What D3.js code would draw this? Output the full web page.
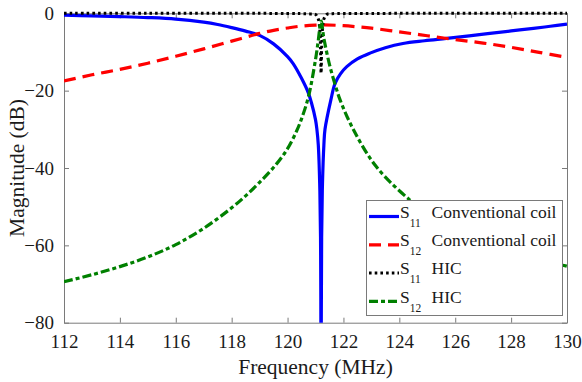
<!DOCTYPE html>
<html>
<head>
<meta charset="utf-8">
<style>
@font-face { font-family: "ChartSerif"; src: local("Liberation Serif"), local("LiberationSerif"), local("Times New Roman"); }
</style>
<script src="https://cdn.jsdelivr.net/npm/d3@7/dist/d3.min.js"></script>
</head>
<body style="margin:0;padding:0;background:#fff">
<svg id="fig" width="582" height="382" style="display:block"></svg>
<script>
// ---- Data ----
const xTicks = [112, 114, 116, 118, 120, 122, 124, 126, 128, 130];
const yTicks = [0, -20, -40, -60, -80];

// S11 conventional coil (blue, solid)
const s11ConvFreq = [112, 113, 114, 115, 116, 117, 117.5, 118, 118.5, 119, 119.5, 120, 120.2, 120.5, 120.74, 120.85, 121.0, 121.05, 121.1, 121.15, 121.18, 121.2, 121.22, 121.25, 121.3, 121.34, 121.55, 121.7, 121.9, 122.12, 122.5, 122.95, 123.5, 124.13, 124.9, 125.69, 126.5, 127.24, 128.0, 128.8, 129.4, 130];
const s11ConvDb   = [-0.5, -0.65, -0.85, -1.1, -1.5, -2.3, -2.9, -3.7, -4.6, -5.7, -7.9, -11.2, -13.0, -16.8, -20.5, -23.0, -27.5, -30.0, -34, -44, -58, -95, -58, -44, -34, -30, -22.4, -18.1, -15.6, -13.8, -11.8, -10.3, -8.9, -7.8, -7.1, -6.5, -5.85, -5.2, -4.55, -3.9, -3.35, -2.8];

// S12 conventional coil (red, dashed)
const s12ConvFreq = [112, 113, 114, 115, 116, 117, 118, 119, 119.5, 120, 120.5, 121, 121.3, 122, 122.5, 123, 124, 125, 126, 127, 128, 129, 130];
const s12ConvDb   = [-17.5, -15.9, -14.5, -12.9, -11.1, -9.2, -7.2, -5.2, -4.4, -3.8, -3.3, -3.05, -3.0, -3.2, -3.5, -3.85, -4.8, -5.8, -6.8, -7.7, -8.8, -10.1, -11.4];

// S11 HIC (black, dotted)
const s11HicFreq = [112, 115, 118, 120, 120.8, 121.0, 121.1, 121.15, 121.18, 121.2, 121.22, 121.25, 121.3, 121.4, 121.6, 122.5, 125, 128, 130];
const s11HicDb   = [0, 0, 0, -0.05, -0.15, -0.3, -1.5, -4, -9, -15.5, -9, -4, -1.5, -0.3, -0.1, -0.05, 0, 0, 0];

// S12 HIC (green, dash-dot)
const s12HicFreq = [112, 113, 114, 115, 116, 117, 118, 118.5, 119, 119.6, 120, 120.32, 120.5, 120.75, 121.0, 121.1, 121.2, 121.3, 121.52, 121.76, 121.88, 122.35, 123.18, 124.38, 125, 126, 127, 128, 129, 130];
const s12HicDb   = [-69.4, -67.6, -65.5, -63.0, -59.8, -55.6, -50.3, -47.2, -43.7, -39.0, -35.0, -30.5, -27.3, -21.5, -12.0, -7.0, -2.0, -6.5, -13.8, -19.8, -22.4, -30.0, -39.7, -48.3, -51.5, -55.5, -58.8, -61.5, -63.6, -65.4];

const series = [
  { sub: "11", name: "Conventional coil", f: s11ConvFreq, v: s11ConvDb, color: "#0000ff", dash: null, w: 3.2 },
  { sub: "12", name: "Conventional coil", f: s12ConvFreq, v: s12ConvDb, color: "#ff0000", dash: "12,7", w: 3.2 },
  { sub: "11", name: "HIC", f: s11HicFreq, v: s11HicDb, color: "#000000", dash: "2.6,3.1", w: 3.0 },
  { sub: "12", name: "HIC", f: s12HicFreq, v: s12HicDb, color: "#008000", dash: "9,3,4,3", w: 3.2 }
];

// ---- Layout ----
const W = 582, H = 382;
const m = { left: 64, right: 15, top: 13.3, bottom: 59.3 };
const pw = W - m.left - m.right, ph = H - m.top - m.bottom;
const FONTCSS = '"Liberation Serif", "ChartSerif", "Times New Roman", "DejaVu Serif", serif';

const svg = d3.select("#fig");

function serif(sel, size) {
  return sel.style("font-family", FONTCSS).attr("font-size", size);
}

const x = d3.scaleLinear().domain([112, 130]).range([m.left, m.left + pw]);
const y = d3.scaleLinear().domain([-80, 0]).range([m.top + ph, m.top]);

const axisColor = "#7a7a7a";
const textColor = "#1a1a1a";
const tickFont = 19;

svg.append("defs").append("clipPath").attr("id", "clip")
  .append("rect").attr("x", m.left).attr("y", 0).attr("width", pw).attr("height", m.top + ph);

// Axes (box with inward ticks)
const gx = svg.append("g").attr("transform", `translate(0,${m.top + ph})`)
  .call(d3.axisBottom(x).tickValues(xTicks).tickSize(-5).tickSizeOuter(0).tickPadding(12).tickFormat(d3.format("d")));
const gxTop = svg.append("g").attr("transform", `translate(0,${m.top})`)
  .call(d3.axisTop(x).tickValues(xTicks).tickSize(-5).tickSizeOuter(0).tickFormat(""));
const gy = svg.append("g").attr("transform", `translate(${m.left},0)`)
  .call(d3.axisLeft(y).tickValues(yTicks).tickSize(-5).tickSizeOuter(0).tickPadding(10).tickFormat(d3.format("d")));
const gyR = svg.append("g").attr("transform", `translate(${m.left + pw},0)`)
  .call(d3.axisRight(y).tickValues(yTicks).tickSize(-5).tickSizeOuter(0).tickFormat(""));

[gx, gxTop, gy, gyR].forEach(g => {
  g.attr("font-family", null).attr("font-size", null);
  g.selectAll(".domain").attr("stroke", axisColor).attr("stroke-width", 1);
  g.selectAll(".tick line").attr("stroke", axisColor).attr("stroke-width", 1);
  serif(g.selectAll(".tick text"), tickFont).attr("fill", textColor);
});
gy.selectAll(".tick text").attr("dy", "0.33em");

// Lines
const plot = svg.append("g").attr("clip-path", "url(#clip)");
series.forEach(s => {
  const pts = s.f.map((f, i) => [f, s.v[i]]);
  const line = d3.line().x(d => x(d[0])).y(d => y(d[1])).curve(d3.curveCatmullRom.alpha(0.5));
  plot.append("path").datum(pts)
    .attr("fill", "none")
    .attr("stroke", s.color)
    .attr("stroke-width", s.w)
    .attr("stroke-dasharray", s.dash)
    .attr("d", line);
});

// Axis labels
serif(svg.append("text"), 21.5)
  .attr("x", m.left + pw / 2).attr("y", 374)
  .attr("text-anchor", "middle").attr("fill", textColor)
  .text("Frequency (MHz)");
serif(svg.append("text"), 21.5)
  .attr("transform", `translate(24,${m.top + ph / 2}) rotate(-90)`)
  .attr("text-anchor", "middle").attr("fill", textColor)
  .text("Magnitude (dB)");

// Legend
const lg = svg.append("g");
lg.append("rect").attr("x", 366.5).attr("y", 200.5).attr("width", 196).attr("height", 115)
  .attr("fill", "#fff").attr("stroke", axisColor).attr("stroke-width", 1);
const rowY = [216.5, 244.8, 273.1, 301.4];
series.forEach((s, i) => {
  const ry = rowY[i];
  lg.append("line").attr("x1", 369).attr("x2", 399).attr("y1", ry).attr("y2", ry)
    .attr("stroke", s.color).attr("stroke-width", s.w).attr("stroke-dasharray", s.dash);
  const t = serif(lg.append("text"), 17.5).attr("x", 400).attr("y", ry + 1.2).attr("fill", textColor);
  t.append("tspan").text("S");
  t.append("tspan").attr("dy", 9).attr("font-size", 11.5).text(s.sub);
  t.append("tspan").attr("x", 431.5).attr("dy", -9).text(s.name);
});
</script>
</body>
</html>
